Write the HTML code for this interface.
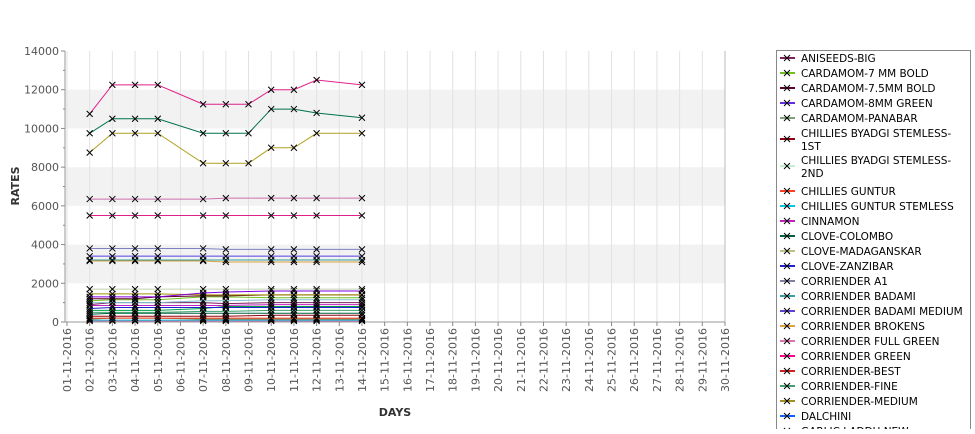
<!DOCTYPE html>
<html><head><meta charset="utf-8"><style>
body{margin:0;background:#fff;width:975px;height:429px;overflow:hidden}
svg{font-family:"DejaVu Sans","Liberation Sans",sans-serif}
</style></head><body>
<svg id="c" width="975" height="429"></svg>
<script>
const days=[1,2,3,4,5,6,7,8,9,10,11,12,13,14,15,16,17,18,19,20,21,22,23,24,25,26,27,28,29,30];
const yTicks=[0,2000,4000,6000,8000,10000,12000,14000];
const dFull=[2,3,4,5,7,8,9,10,11,12,14];
const dPart=[2,3,4,5,7,8,10,11,12,14];
const legendNames=["ANISEEDS-BIG","CARDAMOM-7 MM BOLD","CARDAMOM-7.5MM BOLD","CARDAMOM-8MM GREEN","CARDAMOM-PANABAR","CHILLIES BYADGI STEMLESS-|1ST","CHILLIES BYADGI STEMLESS-|2ND","CHILLIES GUNTUR","CHILLIES GUNTUR STEMLESS","CINNAMON","CLOVE-COLOMBO","CLOVE-MADAGANSKAR","CLOVE-ZANZIBAR","CORRIENDER A1","CORRIENDER BADAMI","CORRIENDER BADAMI MEDIUM","CORRIENDER BROKENS","CORRIENDER FULL GREEN","CORRIENDER GREEN","CORRIENDER-BEST","CORRIENDER-FINE","CORRIENDER-MEDIUM","DALCHINI","GARLIC LADDU NEW"];
const legendColors=["#802060","#70c020","#600030","#6030e0","#80a080","#900010","#c0f0d0","#ff4020","#00c8e0","#c020c0","#006040","#c0c080","#2020d0","#8080a0","#30a0a0","#6040d0","#e0a040","#e070b0","#ff0090","#d02020","#40a070","#a09020","#1060ff","#808080"];
const topSeries=[
 {c:"#e0208a",d:dFull,v:[10750,12250,12250,12250,11250,11250,11250,12000,12000,12500,12250]},
 {c:"#007050",d:dFull,v:[9750,10500,10500,10500,9750,9750,9750,11000,11000,10800,10550]},
 {c:"#b0a020",d:dFull,v:[8750,9750,9750,9750,8200,8200,8200,9000,9000,9750,9750]},
 {c:"#d070b0",d:dPart,v:[6350,6350,6350,6350,6350,6400,6400,6400,6400,6400]},
 {c:"#e0208a",d:dPart,v:[5500,5500,5500,5500,5500,5500,5500,5500,5500,5500]},
 {c:"#8080c0",d:dPart,v:[3800,3800,3800,3800,3800,3750,3750,3750,3750,3750]},
 {c:"#5040e0",d:dPart,v:[3400,3400,3400,3400,3400,3400,3400,3400,3400,3400]},
 {c:"#30a0a0",d:dPart,v:[3200,3200,3200,3200,3200,3200,3200,3200,3200,3200]},
 {c:"#e0a040",d:dPart,v:[3150,3150,3150,3150,3150,3100,3100,3100,3100,3100]},
 {c:"#c0d0b0",d:dPart,v:[1700,1700,1700,1700,1700,1700,1700,1700,1700,1700]},
 {c:"#8000e0",d:dPart,v:[1300,1300,1300,1300,1500,1550,1600,1600,1600,1600]},
 {c:"#a09000",d:dPart,v:[1450,1450,1450,1450,1400,1400,1400,1400,1400,1400]},
 {c:"#600020",d:dPart,v:[1200,1200,1200,1300,1350,1350,1400,1400,1400,1400]},
 {c:"#70c020",d:dPart,v:[1100,1150,1150,1150,1300,1300,1250,1250,1250,1250]},
 {c:"#80c0d0",d:dPart,v:[1000,1000,1000,1000,1100,1100,1150,1150,1150,1150]},
 {c:"#802060",d:dPart,v:[900,1000,1000,1000,1000,950,1000,1000,1000,1000]},
 {c:"#c020c0",d:dPart,v:[850,850,850,850,850,850,900,900,900,900]},
 {c:"#2020d0",d:dPart,v:[700,750,750,750,750,750,750,750,750,750]},
 {c:"#00a040",d:dPart,v:[600,600,600,600,700,800,800,800,800,800]},
 {c:"#40a070",d:dPart,v:[500,500,500,500,550,550,600,600,600,600]},
 {c:"#006040",d:dPart,v:[400,450,450,450,450,450,450,450,450,450]},
 {c:"#900010",d:dPart,v:[300,300,300,300,300,300,350,350,350,350]},
 {c:"#ff4020",d:dPart,v:[200,200,200,200,200,200,200,200,200,200]},
 {c:"#807040",d:dPart,v:[150,200,200,200,150,150,150,150,150,150]},
 {c:"#00c8e0",d:dPart,v:[100,100,100,100,100,100,100,100,100,100]},
 {c:"#d070b0",d:dPart,v:[50,50,50,50,50,50,50,50,50,50]}
];
const svg=document.getElementById('c');
const NS="http://www.w3.org/2000/svg";
const L=65,R=725,T=51,B=322;
const X=d=>67+(d-1)*(R-67)/29;
const Y=v=>B-(v/14000)*(B-T);
function mk(t,a,p){const e=document.createElementNS(NS,t);for(const k in a)e.setAttribute(k,a[k]);(p||svg).appendChild(e);return e;}
for(let i=0;i<yTicks.length-1;i++){if(i%2===1){const b=mk('rect',{x:L,y:Y(yTicks[i+1]),width:R-L,height:Y(yTicks[i])-Y(yTicks[i+1]),fill:'#f2f2f2'});}}
days.forEach(d=>{const g=mk('line',{x1:X(d),x2:X(d),y1:T,y2:B,stroke:'#e2e2e2'});});
const ax=mk('path',{d:`M${L} ${T}V${B}H${R}`,fill:'none',stroke:'#999'});

mk('line',{x1:R,x2:R,y1:T,y2:B,stroke:'#bbb'});
yTicks.forEach(v=>{mk('line',{x1:L-4,x2:L,y1:Y(v),y2:Y(v),stroke:'#888'});
 const t=mk('text',{x:L-6,y:Y(v)+4,'text-anchor':'end','font-size':11,fill:'#555'});t.textContent=v;
 
 if(v<14000)mk('line',{x1:L-2,x2:L,y1:Y(v+1000),y2:Y(v+1000),stroke:'#888'});});
days.forEach(d=>{mk('line',{x1:X(d),x2:X(d),y1:B,y2:B+4,stroke:'#888'});
 const t=mk('text',{transform:`translate(${X(d)+4},${B+6}) rotate(-90)`,'text-anchor':'end','font-size':11,fill:'#555'});
 t.textContent=(d<10?'0':'')+d+'-11-2016';});
const yt=mk('text',{transform:'translate(19,186) rotate(-90)','text-anchor':'middle','font-size':11,'font-weight':'bold',fill:'#333'});yt.textContent='RATES';

const xt=mk('text',{x:395,y:416,'text-anchor':'middle','font-size':11,'font-weight':'bold',fill:'#333'});xt.textContent='DAYS';

function cross(x,y,p){mk('path',{d:`M${x-3} ${y-3}L${x+3} ${y+3}M${x+3} ${y-3}L${x-3} ${y+3}`,stroke:'#000','stroke-width':1},p);}
topSeries.slice().reverse().forEach((s,i)=>{const g=mk('g',{});
 let d='';s.d.forEach((dd,j)=>{d+=(j?'L':'M')+X(dd)+' '+Y(s.v[j]);});
 mk('path',{d,fill:'none',stroke:s.c,'stroke-width':1},g);
 s.d.forEach((dd,j)=>cross(X(dd),Y(s.v[j]),g));});
const lg=mk('g',{});
mk('rect',{x:776.5,y:50.5,width:194,height:390,fill:'#fff',stroke:'#888'},lg);
let yy=58,multi=0;
legendNames.forEach((n,i)=>{const parts=n.split('|');const e=mk('g',{},lg);
 
 const cy=parts.length>1?yy+6:yy;
 mk('line',{x1:780,x2:795,y1:cy,y2:cy,stroke:legendColors[i],'stroke-width':2},e);cross(787,cy,e);
 parts.forEach((p,k)=>{const t=mk('text',{x:801,y:yy+4+k*13,'font-size':10.5,fill:'#000'},e);t.textContent=p;});
 if(parts.length>1){yy+=multi===0?27:31;multi++;}else yy+=15;});
</script>
</body></html>
